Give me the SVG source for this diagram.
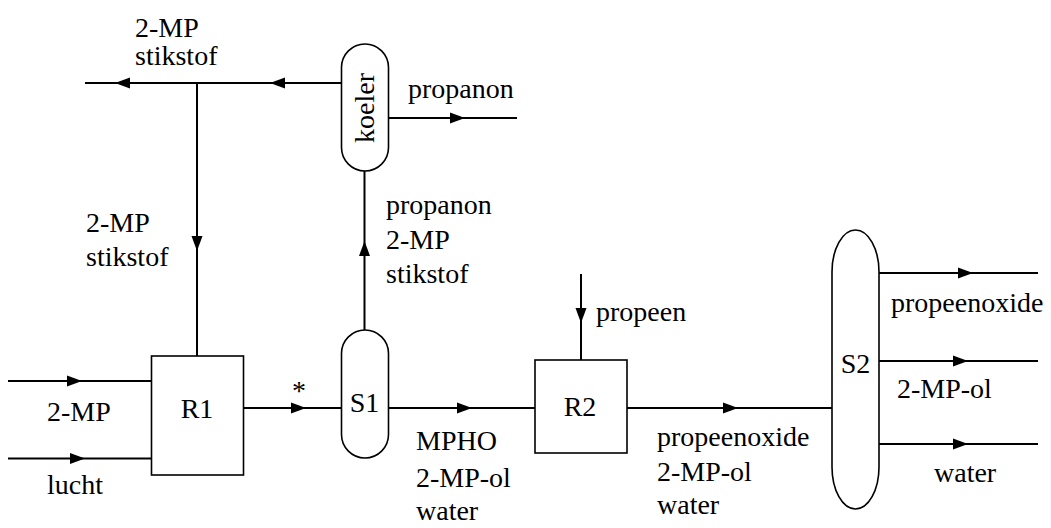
<svg xmlns="http://www.w3.org/2000/svg" width="1051" height="528" viewBox="0 0 1051 528">
<style>
.shape{fill:#fff;stroke:#000;stroke-width:1.6}
.conn{fill:none;stroke:#000;stroke-width:2;marker-mid:url(#arr)}
.c{text-anchor:middle}
.t{font-family:"Liberation Serif","Times New Roman",serif;font-size:28px;fill:#000}
</style>
<defs>
<marker id="arr" markerUnits="userSpaceOnUse" markerWidth="18" markerHeight="14" refX="15" refY="6" orient="auto">
<path d="M0,0.5 L15,6 L0,11.5 Z" fill="#000"/>
</marker>
</defs>
<rect width="1051" height="528" fill="#fff"/>
<g id="connectors">
<path class="conn" d="M341,83 L270,83 L115,83 L85,83"/>
<path class="conn" d="M197,83 L197,251 L197,356"/>
<path class="conn" d="M8,381 L82,381 L151,381"/>
<path class="conn" d="M8,458.5 L85,458.5 L151,458.5"/>
<path class="conn" d="M243,408 L306,408 L341,408"/>
<path class="conn" d="M364.5,330 L364.5,241 L364.5,171"/>
<path class="conn" d="M388,118 L465,118 L517,118"/>
<path class="conn" d="M388,408 L472,408 L535,408"/>
<path class="conn" d="M581,274 L581,323 L581,360"/>
<path class="conn" d="M627,408 L738,408 L832,408"/>
<path class="conn" d="M879,273 L973,273 L1038,273"/>
<path class="conn" d="M879,361 L968,361 L1038,361"/>
<path class="conn" d="M879,444 L968,444 L1038,444"/>
</g>
<g class="t">
<g id="koeler">
<rect class="shape" x="341.5" y="44" width="47" height="127" rx="23.5" ry="23.5"/>
<text class="c" transform="translate(374,108) rotate(-90)">koeler</text>
</g>
<g id="R1">
<rect class="shape" x="151.5" y="356" width="92" height="119"/>
<text class="c" x="197" y="418">R1</text>
</g>
<g id="S1">
<rect class="shape" x="341.5" y="330" width="47" height="128" rx="23.5" ry="23.5"/>
<text class="c" x="364.5" y="412">S1</text>
</g>
<g id="R2">
<rect class="shape" x="535" y="360" width="92" height="93"/>
<text class="c" x="580" y="416">R2</text>
</g>
<g id="S2">
<rect class="shape" x="832" y="230" width="47" height="279" rx="23.5" ry="42"/>
<text class="c" x="855.5" y="373">S2</text>
</g>
<g id="labels">
<text x="135" y="37">2-MP</text>
<text x="135" y="65">stikstof</text>
<text x="408" y="98">propanon</text>
<text x="86" y="232">2-MP</text>
<text x="86" y="266">stikstof</text>
<text x="386" y="214">propanon</text>
<text x="386" y="249">2-MP</text>
<text x="386" y="283">stikstof</text>
<text x="47" y="421">2-MP</text>
<text x="47" y="494">lucht</text>
<text class="c" x="299" y="400">*</text>
<text x="416" y="450">MPHO</text>
<text x="416" y="487">2-MP-ol</text>
<text x="416" y="520">water</text>
<text x="596" y="321">propeen</text>
<text x="657" y="446">propeenoxide</text>
<text x="657" y="481">2-MP-ol</text>
<text x="657" y="514">water</text>
<text x="891" y="312">propeenoxide</text>
<text x="897" y="398">2-MP-ol</text>
<text x="934" y="482">water</text>
</g>
</g>
</svg>
